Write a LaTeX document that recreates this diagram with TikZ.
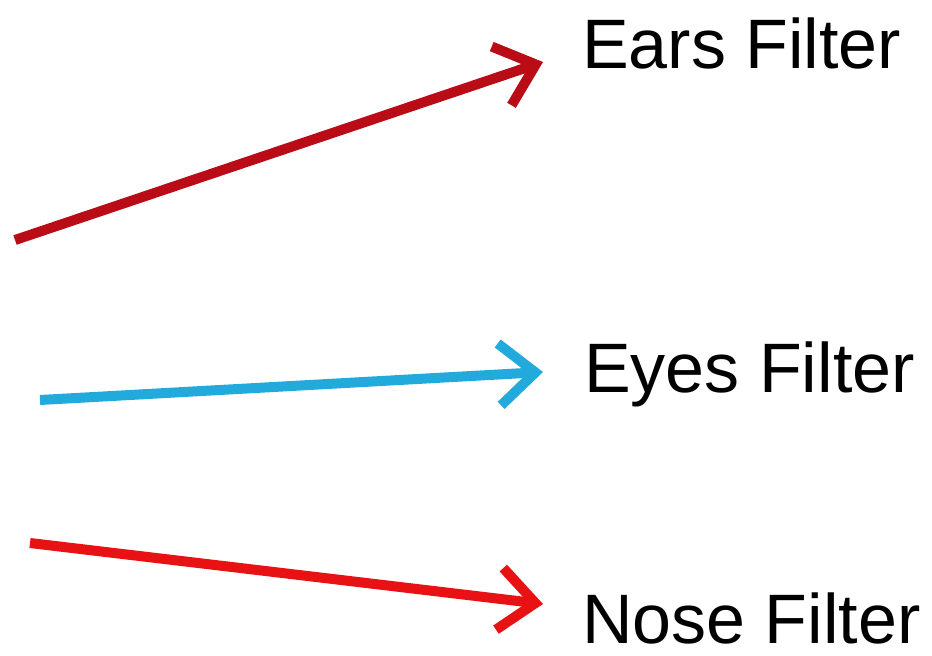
\documentclass[tikz,border=0pt]{standalone}
\usepackage{fontspec}
\setmainfont{Liberation Sans}
\usetikzlibrary{arrows.meta}
\definecolor{earred}{RGB}{185,12,22}
\definecolor{eyeblue}{RGB}{35,170,220}
\definecolor{nosered}{RGB}{232,18,20}
\tikzset{
  filterarrow/.style={line width=10pt, -{Straight Barb[length=36pt,width=62pt,line width=10pt]}, line cap=butt},
  label/.style={anchor=base west, inner sep=0pt, font=\fontsize{70}{80}\selectfont}
}
\begin{document}
\begin{tikzpicture}[x=1pt,y=-1pt]
\useasboundingbox (0,0) rectangle (932,656);
\coordinate (ears0) at (15,240);
\coordinate (ears1) at (543,62);
\coordinate (eyes0) at (40,400);
\coordinate (eyes1) at (543,372);
\coordinate (nose0) at (30,543);
\coordinate (nose1) at (543,604);
\draw[filterarrow, earred] (ears0) -- (ears1);
\draw[filterarrow, eyeblue] (eyes0) -- (eyes1);
\draw[filterarrow, nosered] (nose0) -- (nose1);
\node[label] (earsl) at (582,68) {Ears Filter};
\node[label] (eyesl) at (584,392) {Eyes Filter};
\node[label, text depth=0pt] (nosel) at (582,643) {Nose Filter};
\end{tikzpicture}
\end{document}
